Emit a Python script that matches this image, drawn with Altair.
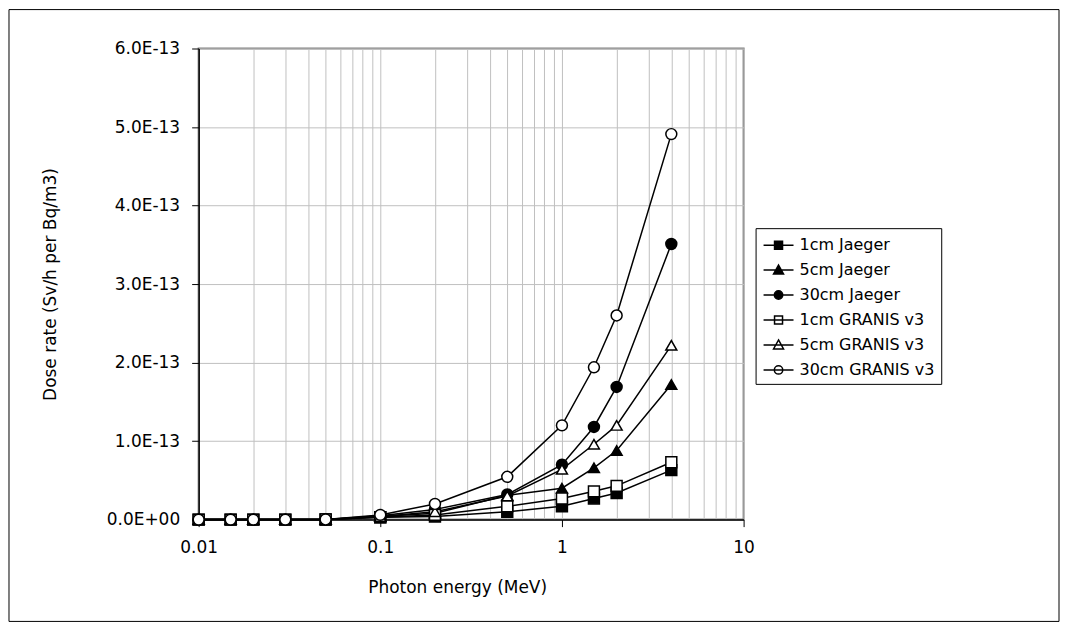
import altair as alt
import pandas as pd

# Photon energy (MeV)
energy = [0.01, 0.015, 0.02, 0.03, 0.05, 0.1, 0.2, 0.5, 1, 1.5, 2, 4]

series_names = ["1cm Jaeger", "5cm Jaeger", "30cm Jaeger",
                "1cm GRANIS v3", "5cm GRANIS v3", "30cm GRANIS v3"]

# Dose rate in units of 1E-13 Sv/h per Bq/m3
jaeger_1cm = [0.0, 0.0, 0.0, 0.0, 0.002, 0.03, 0.04, 0.10, 0.17, 0.27, 0.34, 0.63]
jaeger_5cm = [0.0, 0.0, 0.0, 0.0, 0.002, 0.04, 0.08, 0.31, 0.40, 0.66, 0.88, 1.72]
jaeger_30cm = [0.0, 0.0, 0.0, 0.0, 0.002, 0.05, 0.13, 0.32, 0.70, 1.18, 1.69, 3.51]
granis_1cm = [0.0, 0.0, 0.0, 0.0, 0.002, 0.03, 0.06, 0.17, 0.27, 0.36, 0.43, 0.73]
granis_5cm = [0.0, 0.0, 0.0, 0.0, 0.002, 0.04, 0.10, 0.30, 0.64, 0.96, 1.20, 2.22]
granis_30cm = [0.0, 0.0, 0.0, 0.0, 0.002, 0.06, 0.20, 0.545, 1.20, 1.94, 2.60, 4.91]

series_values = [jaeger_1cm, jaeger_5cm, jaeger_30cm, granis_1cm, granis_5cm, granis_30cm]

marker_shapes = ["square", "triangle-up", "circle", "square", "triangle-up", "circle"]
marker_fills = ["black", "black", "black", "white", "white", "white"]
marker_strokes = ["black"] * 6
legend_shapes = [
    "M-1.5,0H1.5M-0.4,-0.4H0.4V0.4H-0.4Z",
    "M-1.5,0H1.5M0,-0.5L0.5,0.4H-0.5Z",
    "M-1.5,0H1.5M0.42,0A0.42,0.42,0,1,1,-0.42,0A0.42,0.42,0,1,1,0.42,0Z",
    "M-1.5,0H1.5M-0.4,-0.4H0.4V0.4H-0.4Z",
    "M-1.5,0H1.5M0,-0.5L0.5,0.4H-0.5Z",
    "M-1.5,0H1.5M0.42,0A0.42,0.42,0,1,1,-0.42,0A0.42,0.42,0,1,1,0.42,0Z",
]

x_grid = [m * d for d in [0.01, 0.1, 1] for m in range(1, 10)] + [10]
y_ticks = [0, 1e-13, 2e-13, 3e-13, 4e-13, 5e-13, 6e-13]

rows = []
for name, vals in zip(series_names, series_values):
    for e, v in zip(energy, vals):
        rows.append({"energy": e, "dose": v * 1e-13, "series": name})
df = pd.DataFrame(rows)

FONT = "DejaVu Sans"
decade = "abs(log(datum.value)/LN10 - round(log(datum.value)/LN10)) < 1e-6"

x_enc = alt.X(
    "energy:Q",
    scale=alt.Scale(type="log", domain=[0.01, 10], nice=False),
    axis=alt.Axis(
        values=x_grid,
        title="Photon energy (MeV)",
        labelExpr="(" + decade + ") ? (datum.value >= 1 ? format(datum.value, '.0f') : format(datum.value, '.2~f')) : ''",
        tickOpacity={"condition": {"test": decade, "value": 1}, "value": 0},
        labelOverlap=False,
        labelFlush=False,
        labelBound=False,
        tickSize=7,
        labelPadding=13,
        titleX=259,
        titleY=68,
        titleAlign="center",
        titleBaseline="middle",
    ),
)
y_enc = alt.Y(
    "dose:Q",
    scale=alt.Scale(domain=[0, 6e-13], nice=False),
    axis=alt.Axis(
        values=y_ticks,
        title="Dose rate (Sv/h per Bq/m3)",
        labelExpr="datum.value == 0 ? '0.0E+00' : format(datum.value * 1e13, '.1f') + 'E-13'",
        tickSize=7,
        labelPadding=12,
        labelOverlap=False,
        labelFlush=False,
        labelBound=False,
        titleX=-148,
        titleY=236,
        titleAlign="center",
        titleBaseline="middle",
        titleAngle=270,
    ),
)

base = alt.Chart(df)

lines = base.mark_line(color="black", strokeWidth=1.5).encode(
    x=x_enc, y=y_enc, detail="series:N"
)

points = base.mark_point(filled=True, stroke="black", strokeWidth=1.5, size=120, opacity=1).encode(
    x="energy:Q",
    y="dose:Q",
    shape=alt.Shape("series:N", scale=alt.Scale(domain=series_names, range=marker_shapes), legend=None),
    fill=alt.Fill("series:N", scale=alt.Scale(domain=series_names, range=marker_fills), legend=None),
)

legend_props = dict(
    title=None,
    orient="none",
    legendX=558,
    legendY=180,
    strokeColor="black",
    fillColor="white",
    padding=6,
    symbolSize=400,
    symbolStrokeWidth=1.5,
    symbolOpacity=1,
    symbolOffset=6,
    labelOffset=10,
    labelFont=FONT,
    labelFontSize=16,
    labelColor="black",
    rowPadding=6,
    labelLimit=300,
)

legend_layer = base.transform_filter("datum.energy < 0").mark_point(
    filled=True, strokeWidth=1.5, size=400, opacity=1
).encode(
    x="energy:Q",
    y="dose:Q",
    shape=alt.Shape("series:N", scale=alt.Scale(domain=series_names, range=legend_shapes),
                    legend=alt.Legend(**legend_props)),
    fill=alt.Fill("series:N", scale=alt.Scale(domain=series_names, range=marker_fills),
                  legend=alt.Legend(**legend_props)),
    stroke=alt.Stroke("series:N", scale=alt.Scale(domain=series_names, range=marker_strokes),
                      legend=alt.Legend(**legend_props)),
)

frame = alt.Chart(alt.Data(values=[{"f": 1}])).mark_rect(
    fill="transparent", stroke="black", strokeWidth=1
).encode(
    x=alt.value(-190), x2=alt.value(862), y=alt.value(-39), y2=alt.value(574)
)

chart = alt.layer(frame, lines, points, legend_layer).resolve_scale(
    shape="independent", fill="independent", stroke="independent"
).properties(
    width=546,
    height=472,
    autosize=alt.AutoSizeParams(type="none"),
    padding={"left": 191, "top": 40, "right": 318, "bottom": 104},
).configure_view(
    stroke="#808080", strokeWidth=2
).configure_axis(
    labelFont=FONT,
    titleFont=FONT,
    labelFontSize=17,
    titleFontSize=17,
    labelColor="black",
    titleColor="black",
    titleFontWeight="normal",
    domainColor="black",
    domainWidth=1.5,
    tickColor="black",
    tickWidth=1,
    gridColor="#c0c0c0",
    gridWidth=1,
)

chart.save("out.html", embed_options={"renderer": "svg", "actions": False})
